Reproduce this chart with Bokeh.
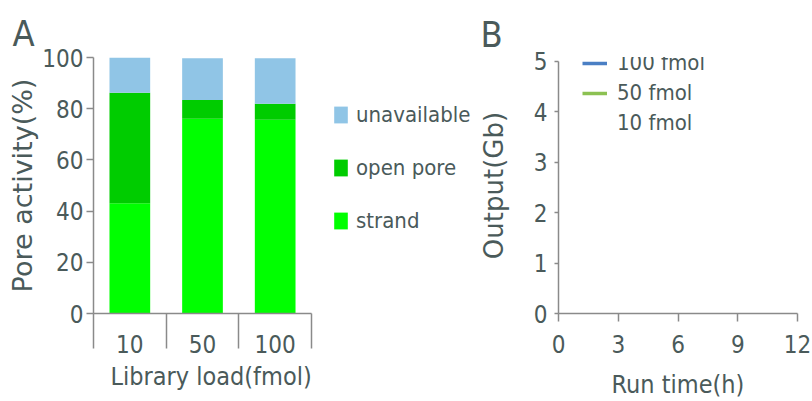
from bokeh.plotting import figure
from bokeh.layouts import row
from bokeh.models import ColumnDataSource, Range1d, FixedTicker, Legend, LegendItem, Title
from bokeh.embed import file_html
from bokeh.resources import INLINE

# ---- Panel A data ----
loads = ["10", "50", "100"]
strand = [43.1, 76.1, 75.7]
open_pore = [43.1, 7.3, 6.2]
unavailable = [13.8, 16.3, 17.8]
pct_ticks = [0, 20, 40, 60, 80, 100]
stack_labels = ["strand", "open pore", "unavailable"]
stack_colors = ["#00ff00", "#00cc00", "#90c5e6"]

# ---- Panel B data (no points drawn in the reference) ----
series_names = ["100 fmol", "50 fmol", "10 fmol"]
series_colors = ["#4a7fc4", "#8cc152", "#ffffff"]
run_time_100, output_100 = [], []
run_time_50, output_50 = [], []
run_time_10, output_10 = [], []
time_ticks = [0, 3, 6, 9, 12]
gb_ticks = [0, 1, 2, 3, 4, 5]

FONT = "DejaVu Sans Condensed"
FONT_V = "DejaVu Sans"
TEXT = "#4a5a5a"
AXIS = "#8a8a8a"
NAN = float("nan")


def style_axis(ax, vertical=False, label_size="25px"):
    ax.axis_line_color = AXIS
    ax.axis_line_width = 1.5
    ax.major_tick_line_color = AXIS
    ax.major_tick_line_width = 1.5
    ax.minor_tick_line_color = AXIS
    ax.minor_tick_line_width = 1.5
    ax.major_label_text_font = FONT
    ax.major_label_text_font_size = "24px"
    ax.major_label_text_color = TEXT
    ax.axis_label_text_font = FONT_V if vertical else FONT
    ax.axis_label_text_font_size = label_size
    ax.axis_label_text_font_style = "normal"
    ax.axis_label_text_color = TEXT
    ax.major_tick_in = 0
    ax.minor_tick_in = 0


def style_title(t, size, offset, standoff):
    t.text_font = FONT
    t.text_font_size = size
    t.text_font_style = "normal"
    t.text_color = TEXT
    t.align = "left"
    t.offset = offset
    t.standoff = standoff


# ================= Panel A =================
# The frame runs on to the right edge so the legend can sit beside the bars;
# the x axis itself is bounded to the three categories.
A_LEFT, A_WIDTH, A_CAT_PX = 93, 475, 72.67
n_cat = len(loads)
xs = [i + 0.5 for i in range(n_cat)]
srcA = ColumnDataSource(dict(x=xs, strand=strand, open_pore=open_pore, unavailable=unavailable))

pA = figure(width=A_WIDTH, height=401,
            min_border_left=A_LEFT, min_border_right=0, min_border_top=57, min_border_bottom=86,
            x_range=Range1d(0, (A_WIDTH - A_LEFT) / A_CAT_PX), y_range=Range1d(0, 100),
            output_backend="svg", toolbar_location=None, title="A")
pA.grid.visible = False
pA.outline_line_color = None
style_title(pA.title, "36px", -81, 7)

rA = pA.vbar_stack(["strand", "open_pore", "unavailable"], x="x", width=0.56, source=srcA,
                   fill_color=stack_colors, line_color=None)

xa = pA.xaxis[0]
style_axis(xa)
xa.bounds = (0, n_cat)
xa.ticker = FixedTicker(ticks=xs, minor_ticks=list(range(n_cat + 1)))
xa.major_label_overrides = {x: lab for x, lab in zip(xs, loads)}
xa.major_tick_out = 0
xa.minor_tick_out = 35
xa.major_label_standoff = -14

# x-axis caption, set under the three categories (not the whole frame)
capA = Title(text="Library load(fmol)", vertical_align="bottom")
style_title(capA, "25px", 17, 8)
pA.add_layout(capA, "below")

ya = pA.yaxis[0]
style_axis(ya, vertical=True, label_size="27px")
ya.ticker = FixedTicker(ticks=pct_ticks, minor_ticks=[])
ya.major_tick_out = 7
ya.major_label_standoff = 3
ya.axis_label = "Pore activity(%)"
ya.axis_label_standoff = 1

legA = Legend(items=[LegendItem(label=lab, renderers=[r])
                     for lab, r in reversed(list(zip(stack_labels, rA)))],
              location=(239, 80), orientation="vertical", padding=0, margin=0, spacing=28,
              glyph_width=17, glyph_height=21, label_standoff=7,
              label_text_font=FONT, label_text_font_size="22px", label_text_color=TEXT,
              border_line_color=None, background_fill_alpha=0)
pA.add_layout(legA)

# ================= Panel B =================
B_TOP, B_Y5, B_BOTTOM = 55, 59, 317
pB = figure(width=337, height=401,
            min_border_left=81, min_border_right=15, min_border_top=B_TOP,
            min_border_bottom=401 - B_BOTTOM,
            x_range=Range1d(0, 12),
            y_range=Range1d(0, gb_ticks[-1] * (B_BOTTOM - B_TOP) / (B_BOTTOM - B_Y5)),
            output_backend="svg", toolbar_location=None, title="B")
pB.grid.visible = False
pB.outline_line_color = None
style_title(pB.title, "36px", -78, 6)

line_data = [(run_time_100, output_100), (run_time_50, output_50), (run_time_10, output_10)]
rB = []
for (t, o), c in zip(line_data, series_colors):
    # a single NaN keeps the (empty) series drawable in the legend without plotting anything
    src = ColumnDataSource(dict(x=t if t else [NAN], y=o if o else [NAN]))
    rB.append(pB.line("x", "y", source=src, line_color=c, line_width=3.5))

xb = pB.xaxis[0]
style_axis(xb)
xb.ticker = FixedTicker(ticks=time_ticks, minor_ticks=[])
xb.major_tick_out = 8
xb.major_label_standoff = 13
xb.axis_label = "Run time(h)"
xb.axis_label_standoff = 14

yb = pB.yaxis[0]
style_axis(yb, vertical=True, label_size="26px")
yb.ticker = FixedTicker(ticks=gb_ticks, minor_ticks=[])
yb.bounds = (gb_ticks[0], gb_ticks[-1])
yb.major_tick_out = 4
yb.major_label_standoff = 7
yb.axis_label = "Output(Gb)"
yb.axis_label_standoff = 22

legB = Legend(items=[LegendItem(label=n, renderers=[r]) for n, r in zip(series_names, rB)],
              location=(24, 178), orientation="vertical", padding=0, margin=0, spacing=5,
              glyph_width=25, glyph_height=20, label_standoff=10,
              label_text_font=FONT, label_text_font_size="22px", label_text_color=TEXT,
              border_line_color=None, background_fill_alpha=0)
pB.add_layout(legB)

layout = row(pA, pB)
open("out.html", "w").write(file_html(layout, INLINE))
